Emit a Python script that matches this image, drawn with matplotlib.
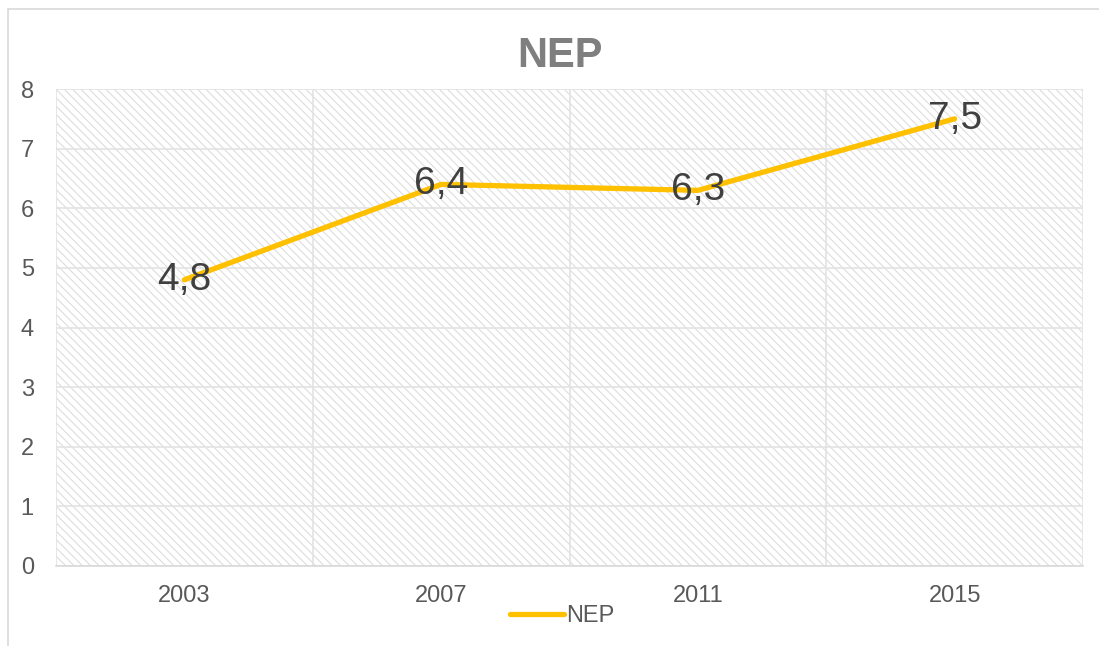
import matplotlib.pyplot as plt
from matplotlib.patches import Rectangle
import numpy as np

# data
years = ["2003", "2007", "2011", "2015"]
nep = [4.8, 6.4, 6.3, 7.5]
labels = ["4,8", "6,4", "6,3", "7,5"]

plt.rcParams['font.family'] = ['Liberation Sans', 'DejaVu Sans']
plt.rcParams['hatch.linewidth'] = 0.7
plt.rcParams['hatch.color'] = '#d9d9d9'

fig = plt.figure(figsize=(10.99, 6.46), dpi=100)
ax = fig.add_axes([56 / 1099, 1 - 566 / 646, (1083 - 56) / 1099, (566 - 89) / 646])

# outer chart border
fig.patches.append(Rectangle((8 / 1099, -0.05), 1.2, 1 - 9 / 646 + 0.05, transform=fig.transFigure,
                             fill=False, edgecolor='#d9d9d9', linewidth=1.2, zorder=0))

# hatched plot area
ax.add_patch(Rectangle((0, 0), 1, 1, transform=ax.transAxes, facecolor='white',
                       hatch='\\\\\\\\', edgecolor='#d9d9d9', linewidth=0, zorder=0))

x = np.arange(len(years))
ax.plot(x, nep, color='#FFC000', linewidth=3.8, solid_capstyle='round', label='NEP', zorder=3)
for xi, v, t in zip(x, nep, labels):
    ax.text(xi, v, t, ha='center', va='center', fontsize=28, color='#404040', zorder=4)

ax.set_xlim(-0.5, len(years) - 0.5)
ax.set_ylim(0, 8)
ax.set_yticks(range(0, 9))
ax.set_xticks(x)
ax.set_xticklabels(years)
ax.set_xticks(np.arange(-0.5, len(years)), minor=True)
ax.tick_params(axis='both', which='both', length=0, labelsize=17, labelcolor='#595959')
ax.tick_params(axis='y', pad=16)
ax.tick_params(axis='x', pad=14)

ax.grid(True, axis='y', color='#e3e3e3', linewidth=1.2, zorder=1)
ax.grid(True, axis='x', which='minor', color='#e3e3e3', linewidth=1.2, zorder=1)
ax.set_axisbelow(True)
for s in ['top', 'right', 'left']:
    ax.spines[s].set_visible(False)
ax.spines['bottom'].set_color('#d9d9d9')
ax.spines['bottom'].set_linewidth(1.2)

fig.text(560 / 1099, 1 - 56 / 646, 'NEP', ha='center', va='center', fontsize=30,
         fontweight='bold', color='#7f7f7f')

fig.legend(loc='center', bbox_to_anchor=(562 / 1099, 1 - 616 / 646), frameon=False,
           fontsize=17, handlelength=2.3, handletextpad=0.1,
           labelcolor='#595959')

fig.savefig('out.png', dpi=100)
